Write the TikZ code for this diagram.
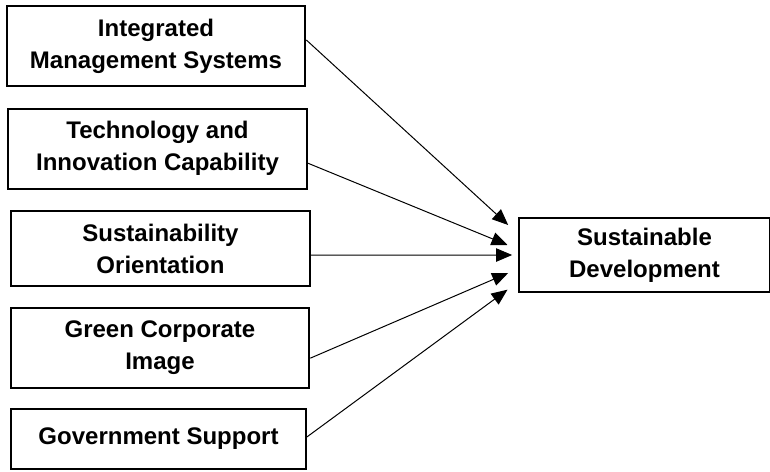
\documentclass[tikz,border=0pt]{standalone}
\usepackage{fontspec}
\setmainfont{Liberation Sans}
\usetikzlibrary{arrows.meta}
\begin{document}
\begin{tikzpicture}[x=0.75pt,y=-0.75pt,>={Triangle[length=12pt,width=10pt]},
                factor/.style={draw,line width=1.5pt,minimum width=224pt,minimum height=60pt,
                  align=center,font=\bfseries\fontsize{18}{24}\selectfont},
                link/.style={->,line width=0.75pt}]
                \useasboundingbox (0,0) rectangle (770,471);
                \node[factor] (ims) at (156,46) {Integrated\\Management Systems};
                \node[factor] (tic) at (157.5,148.5) {Technology and\\Innovation Capability};
                \node[factor,minimum height=56pt] (so) at (160.5,248.5) {Sustainability\\Orientation};
                \node[factor] (gci) at (160,347.5) {Green Corporate\\Image};
                \node[factor,minimum height=45pt,minimum width=221pt] (gs) at (158.5,439) {Government Support};
                \node[factor,minimum width=188pt,minimum height=55.5pt] (sd) at (644.5,255) {Sustainable\\Development};
                %\draw[dashed] (sd.north west)--(sd.south west);
                \foreach \b/\s/\x/\t in {ims/4.5/-7.5/22.5,tic/-11/-8/7.5,so/-5/-4.5/0,gci/-8/-7.5/-13.5,gs/1.5/-8/-26}
                  \draw[link] ([yshift=\s pt]\b.east)--([xshift=\x pt,yshift=\t pt]sd.west);
            \end{tikzpicture}
\end{document}
